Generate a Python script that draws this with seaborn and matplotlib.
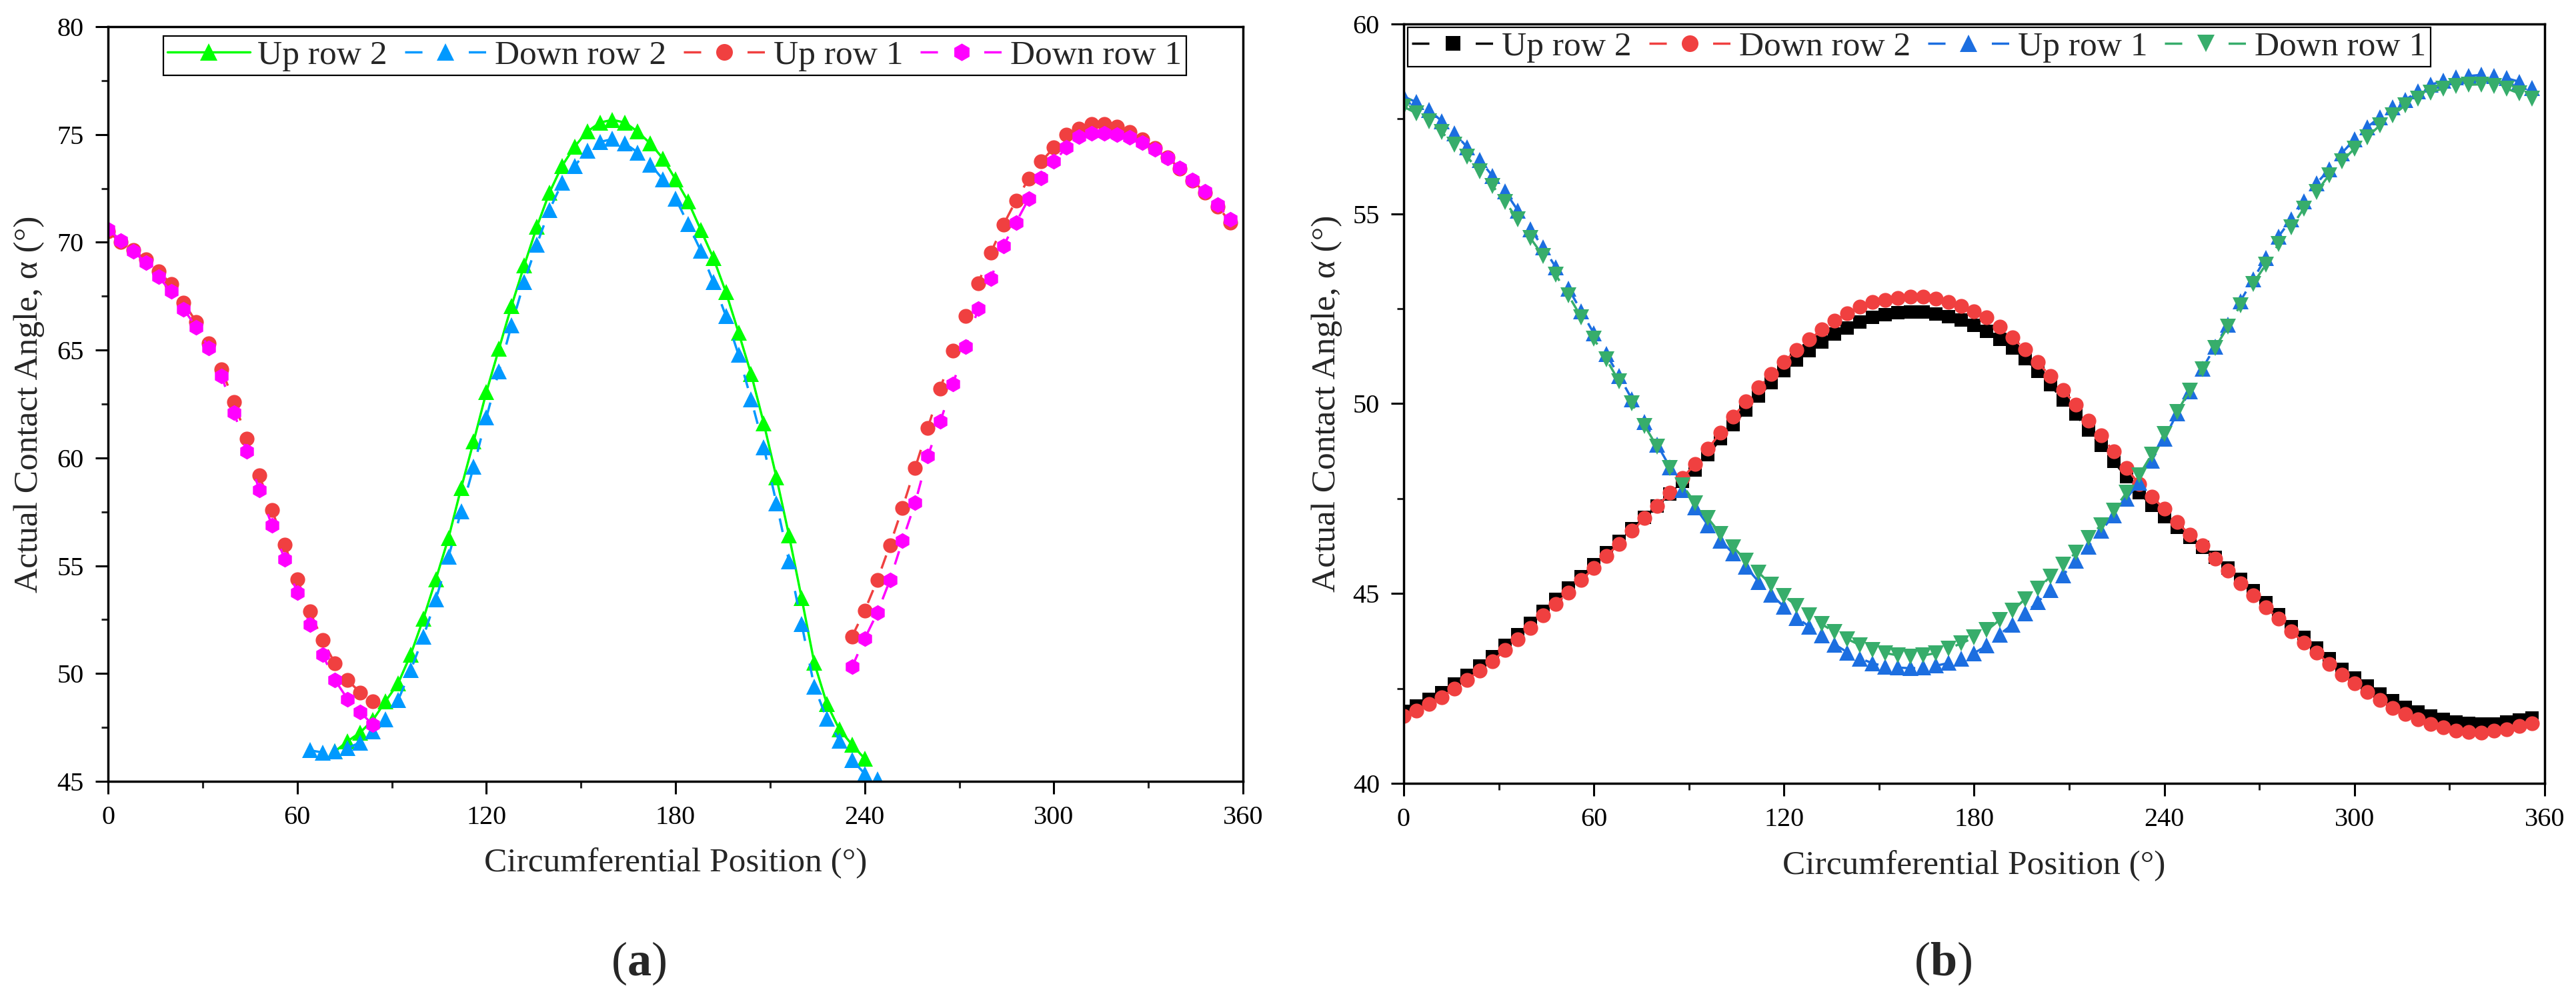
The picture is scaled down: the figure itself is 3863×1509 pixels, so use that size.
import numpy as np
import pandas as pd
import matplotlib
matplotlib.use("Agg")
from matplotlib import pyplot as plt
from matplotlib.lines import Line2D
from matplotlib.ticker import MultipleLocator
import seaborn as sns

# ---- panel (a): contact angle, values read every 4 degrees ----
a_up2_pos = list(range(72, 241, 4))
a_up2 = [46.39, 46.86, 47.27, 47.84, 48.71, 49.54, 50.88, 52.53, 54.38, 56.29,
         58.60, 60.78, 63.05, 65.06, 67.06, 68.92, 70.71, 72.30, 73.54, 74.44,
         75.13, 75.55, 75.68, 75.55, 75.13, 74.58, 73.89, 72.92, 71.89, 70.58,
         69.27, 67.68, 65.81, 63.88, 61.60, 59.10, 56.40, 53.50, 50.50, 48.60,
         47.40, 46.70, 46.05]

a_down2_pos = list(range(64, 245, 4))
a_down2 = [46.44, 46.34, 46.39, 46.55, 46.80, 47.32, 47.89, 48.76, 50.15, 51.70,
           53.45, 55.41, 57.53, 59.60, 61.88, 64.02, 66.16, 68.16, 69.89, 71.50,
           72.75, 73.54, 74.24, 74.65, 74.79, 74.58, 74.17, 73.61, 72.92, 72.03,
           70.85, 69.61, 68.16, 66.57, 64.78, 62.71, 60.50, 57.90, 55.20, 52.30,
           49.40, 47.90, 46.90, 46.00, 45.35, 45.10]

a_row1_pos_1 = list(range(0, 85, 4))
a_row1_pos_2 = list(range(236, 357, 4))
a_up1_1 = [70.50, 70.00, 69.63, 69.20, 68.65, 68.07, 67.20, 66.30, 65.30, 64.10,
           62.60, 60.90, 59.18, 57.58, 55.98, 54.38, 52.89, 51.55, 50.46, 49.69,
           49.12, 48.71]
a_up1_2 = [51.72, 52.92, 54.33, 55.95, 57.69, 59.53, 61.38, 63.22, 64.96, 66.58,
           68.10, 69.51, 70.81, 71.94, 72.94, 73.74, 74.39, 74.98, 75.26, 75.48,
           75.48, 75.37, 75.12, 74.78, 74.38, 73.94, 73.42, 72.86, 72.30, 71.66,
           70.92]
a_down1_1 = [70.61, 70.09, 69.58, 69.06, 68.39, 67.72, 66.89, 66.07, 65.10, 63.80,
             62.10, 60.30, 58.51, 56.86, 55.31, 53.76, 52.27, 50.88, 49.69, 48.81,
             48.20, 47.63]
a_down1_2 = [50.31, 51.62, 52.81, 54.33, 56.17, 57.91, 60.08, 61.70, 63.44, 65.17,
             66.91, 68.32, 69.84, 70.92, 72.01, 72.98, 73.74, 74.39, 74.89, 75.04,
             75.04, 74.98, 74.88, 74.62, 74.30, 73.92, 73.44, 72.90, 72.36, 71.74,
             71.05]

# ---- panel (b) ----
b_pos = list(range(0, 357, 4))
b_up2 = [41.89, 42.04, 42.21, 42.39, 42.62, 42.85, 43.09, 43.34, 43.63, 43.92,
         44.22, 44.53, 44.84, 45.14, 45.45, 45.76, 46.07, 46.38, 46.70, 47.01,
         47.31, 47.62, 47.96, 48.26, 48.65, 49.07, 49.45, 49.83, 50.20, 50.55,
         50.87, 51.15, 51.40, 51.63, 51.83, 52.00, 52.15, 52.27, 52.35, 52.40,
         52.42, 52.41, 52.37, 52.30, 52.20, 52.07, 51.90, 51.70, 51.46, 51.18,
         50.86, 50.50, 50.10, 49.72, 49.30, 48.90, 48.48, 48.07, 47.66, 47.32,
         47.03, 46.74, 46.48, 46.22, 45.95, 45.68, 45.38, 45.07, 44.76, 44.45,
         44.13, 43.84, 43.57, 43.29, 43.01, 42.78, 42.56, 42.36, 42.17, 42.01,
         41.88, 41.77, 41.69, 41.62, 41.58, 41.56, 41.57, 41.61, 41.66, 41.72]
b_down2 = [41.77, 41.92, 42.09, 42.27, 42.50, 42.73, 42.97, 43.22, 43.51, 43.80,
           44.10, 44.42, 44.73, 45.03, 45.35, 45.67, 45.99, 46.31, 46.65, 46.98,
           47.30, 47.65, 48.05, 48.41, 48.81, 49.24, 49.65, 50.06, 50.43, 50.78,
           51.10, 51.42, 51.69, 51.95, 52.19, 52.38, 52.56, 52.67, 52.73, 52.79,
           52.81, 52.81, 52.77, 52.67, 52.58, 52.44, 52.27, 52.02, 51.74, 51.43,
           51.09, 50.73, 50.36, 49.98, 49.56, 49.16, 48.74, 48.31, 47.88, 47.55,
           47.23, 46.88, 46.55, 46.26, 45.91, 45.60, 45.27, 44.95, 44.64, 44.33,
           44.00, 43.71, 43.44, 43.15, 42.86, 42.63, 42.41, 42.20, 41.99, 41.82,
           41.68, 41.56, 41.47, 41.39, 41.35, 41.34, 41.38, 41.43, 41.51, 41.58]
b_up1 = [58.09, 57.94, 57.74, 57.44, 57.12, 56.76, 56.41, 56.00, 55.59, 55.09,
         54.59, 54.12, 53.59, 53.03, 52.44, 51.85, 51.30, 50.72, 50.12, 49.52,
         48.92, 48.33, 47.73, 47.27, 46.80, 46.40, 46.05, 45.70, 45.31, 44.97,
         44.65, 44.36, 44.13, 43.90, 43.66, 43.45, 43.29, 43.16, 43.08, 43.05,
         43.03, 43.05, 43.10, 43.17, 43.29, 43.43, 43.63, 43.92, 44.18, 44.47,
         44.77, 45.10, 45.48, 45.86, 46.24, 46.65, 47.05, 47.50, 47.92, 48.50,
         49.08, 49.74, 50.32, 50.92, 51.50, 52.08, 52.70, 53.27, 53.84, 54.40,
         54.85, 55.33, 55.80, 56.17, 56.60, 56.96, 57.28, 57.55, 57.80, 58.00,
         58.22, 58.40, 58.50, 58.60, 58.63, 58.66, 58.63, 58.57, 58.48, 58.32]
b_down1 = [57.82, 57.65, 57.44, 57.15, 56.82, 56.50, 56.12, 55.74, 55.32, 54.85,
           54.36, 53.89, 53.39, 52.85, 52.28, 51.71, 51.16, 50.58, 50.00, 49.42,
           48.86, 48.31, 47.85, 47.38, 46.98, 46.57, 46.22, 45.87, 45.55, 45.23,
           44.94, 44.67, 44.42, 44.19, 43.98, 43.80, 43.64, 43.51, 43.43, 43.37,
           43.34, 43.37, 43.43, 43.55, 43.69, 43.84, 44.03, 44.30, 44.54, 44.85,
           45.12, 45.44, 45.76, 46.07, 46.46, 46.80, 47.19, 47.65, 48.11, 48.66,
           49.20, 49.78, 50.35, 50.90, 51.47, 52.02, 52.59, 53.16, 53.66, 54.20,
           54.64, 55.14, 55.58, 56.02, 56.38, 56.72, 57.02, 57.33, 57.59, 57.86,
           58.03, 58.20, 58.30, 58.37, 58.40, 58.41, 58.37, 58.30, 58.17, 58.03]

x_ticks = [0, 60, 120, 180, 240, 300, 360]
labels = ["Up row 2", "Down row 2", "Up row 1", "Down row 1"]


def long_frame(parts):
    rows = []
    for name, seg, pos, vals in parts:
        for p, v in zip(pos, vals):
            rows.append({"position": p, "angle": v, "series": name, "segment": seg})
    return pd.DataFrame(rows)


df_a = long_frame([
    ("Up row 2", 0, a_up2_pos, a_up2),
    ("Down row 2", 0, a_down2_pos, a_down2),
    ("Up row 1", 0, a_row1_pos_1, a_up1_1),
    ("Up row 1", 1, a_row1_pos_2, a_up1_2),
    ("Down row 1", 0, a_row1_pos_1, a_down1_1),
    ("Down row 1", 1, a_row1_pos_2, a_down1_2),
])
df_b = long_frame([
    ("Up row 2", 0, b_pos, b_up2),
    ("Down row 2", 0, b_pos, b_down2),
    ("Up row 1", 0, b_pos, b_up1),
    ("Down row 1", 0, b_pos, b_down1),
])

sns.set_theme(style="ticks")
plt.rcParams["font.family"] = ["Liberation Serif", "DejaVu Serif"]
plt.rcParams["mathtext.fontset"] = "custom"
plt.rcParams["mathtext.rm"] = "Liberation Serif"
plt.rcParams["mathtext.bf"] = "Liberation Serif:bold"

dash = (0, (6, 10))
leg_dash = (0, (7.5, 20))

# name -> colour, marker, size, linestyle
style_a = {
    "Up row 2": ("#00FF00", "^", 17, "-"),
    "Down row 2": ("#0099FF", "^", 17, dash),
    "Up row 1": ("#F04040", "o", 16, dash),
    "Down row 1": ("#FF00FF", "h", 17, dash),
}
style_b = {
    "Up row 2": ("#000000", "s", 14, dash),
    "Down row 2": ("#F04040", "o", 16, dash),
    "Up row 1": ("#1C6EE0", "^", 17, dash),
    "Down row 1": ("#37AD6B", "v", 17, dash),
}

fig = plt.figure(figsize=(38.63, 15.09), dpi=100)
ax_a = fig.add_axes([0.04194, 0.22333, 0.44059, 0.75017])
ax_b = fig.add_axes([0.54491, 0.22134, 0.44292, 0.75481])


def draw(ax, df, styles, ylim, ymajor, leg_anchor, ylab_x):
    handles = []
    for name in labels:
        c, m, ms, ls = styles[name]
        sns.lineplot(data=df[df["series"] == name], x="position", y="angle",
                     units="segment", estimator=None, sort=False, ax=ax,
                     color=c, marker=m, markersize=ms, markeredgewidth=0,
                     linestyle=ls, linewidth=2.5, legend=False)
        handles.append(Line2D([], [], color=c, marker=m, markersize=ms + 2,
                              markeredgewidth=0, linewidth=2.5,
                              linestyle="-" if ls == "-" else leg_dash))
    ax.set_xlim(0, 360)
    ax.set_ylim(*ylim)
    ax.set_xticks(x_ticks)
    ax.xaxis.set_minor_locator(MultipleLocator(30))
    ax.yaxis.set_major_locator(MultipleLocator(ymajor))
    ax.yaxis.set_minor_locator(MultipleLocator(ymajor / 2))
    ax.tick_params(which="major", direction="out", length=14, width=2.2,
                   labelsize=29, pad=12, colors="black")
    ax.tick_params(which="minor", direction="out", length=7, width=2.2)
    ax.tick_params(top=False, right=False, which="both")
    for sp in ax.spines.values():
        sp.set_linewidth(2.5)
        sp.set_color("black")
    ax.set_xlabel("Circumferential Position (°)", fontsize=37)
    ax.set_ylabel("Actual Contact Angle, α (°)", fontsize=37)
    ax.xaxis.set_label_coords(0.5, -0.088)
    ax.yaxis.set_label_coords(ylab_x, 0.5)
    leg = ax.legend(handles=handles, labels=labels, loc="upper left",
                    bbox_to_anchor=leg_anchor, ncol=4, fontsize=37,
                    frameon=True, fancybox=False, framealpha=1,
                    edgecolor="black", handlelength=2.4, handletextpad=0.23,
                    columnspacing=0.5, borderpad=0.12, borderaxespad=0,
                    numpoints=1)
    leg.get_frame().set_linewidth(1.6)


draw(ax_a, df_a, style_a, (45, 80), 5, (0.0488, 0.9876), -0.056)
draw(ax_b, df_b, style_b, (40, 60), 5, (0.0035, 0.9956), -0.054)

fig.text(958 / 3863, 1 - 1445 / 1509, r"($\mathbf{a}$)", ha="center", va="center", fontsize=52)
fig.text(2914 / 3863, 1 - 1445 / 1509, r"($\mathbf{b}$)", ha="center", va="center", fontsize=52)

fig.savefig("out.png", dpi=100, facecolor="white")
